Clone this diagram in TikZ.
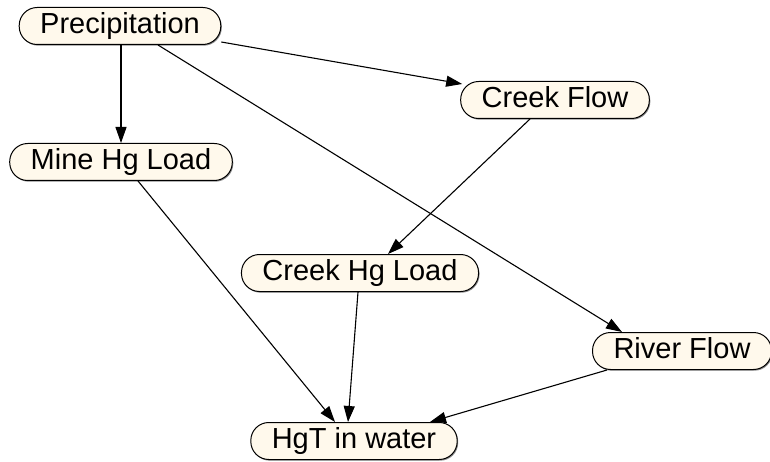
\documentclass[tikz,border=0pt]{standalone}
\usepackage{fontspec}
\setmainfont{Liberation Sans}
\usetikzlibrary{arrows.meta,shadows}
\definecolor{nodefill}{HTML}{FFF9EC}
\tikzset{
  var/.style={draw=black, line width=1pt, fill=nodefill, rounded corners=18pt,
    minimum height=37pt, inner xsep=21pt, inner ysep=0pt,
    font=\fontsize{29}{32}\selectfont, text height=21pt, text depth=6pt,
    drop shadow={shadow xshift=1pt, shadow yshift=-1.2pt, fill=black!45, opacity=1}},
  link/.style={line width=1.1pt, -{Triangle[length=16pt,width=11pt]}}
}
\begin{document}
\begin{tikzpicture}[x=1pt,y=-1pt]
  \useasboundingbox (0,0) rectangle (770,462);
  \node[var] (prec)  at (120,26)  {Precipitation};
  \node[var] (cflow) at (555,100) {Creek Flow};
  \node[var] (mine)  at (121,162) {Mine Hg Load};
  \node[var] (chg)   at (360,273) {Creek Hg Load};
  \node[var] (rflow) at (682,351) {River Flow};
  \node[var] (hgt)   at (354,441) {HgT in water};

  \draw[link] (prec.south -| mine.north) -- (mine.north);
  \draw[link] ([yshift=-16pt]prec.east) -- ([xshift=2pt,yshift=-3pt]cflow.north west);
  \draw[link] ([xshift=38pt]prec.south) -- ([xshift=-60pt]rflow.north);
  \draw[link] ([xshift=-25pt]cflow.south) -- ([xshift=28pt]chg.north);
  \draw[link] ([xshift=17pt]mine.south) -- ([xshift=-19pt]hgt.north);
  \draw[link] ([xshift=-2pt]chg.south) -- ([xshift=-6pt]hgt.north);
  \draw[link] ([xshift=-75pt]rflow.south) -- ([xshift=76pt]hgt.north);
\end{tikzpicture}
\end{document}
